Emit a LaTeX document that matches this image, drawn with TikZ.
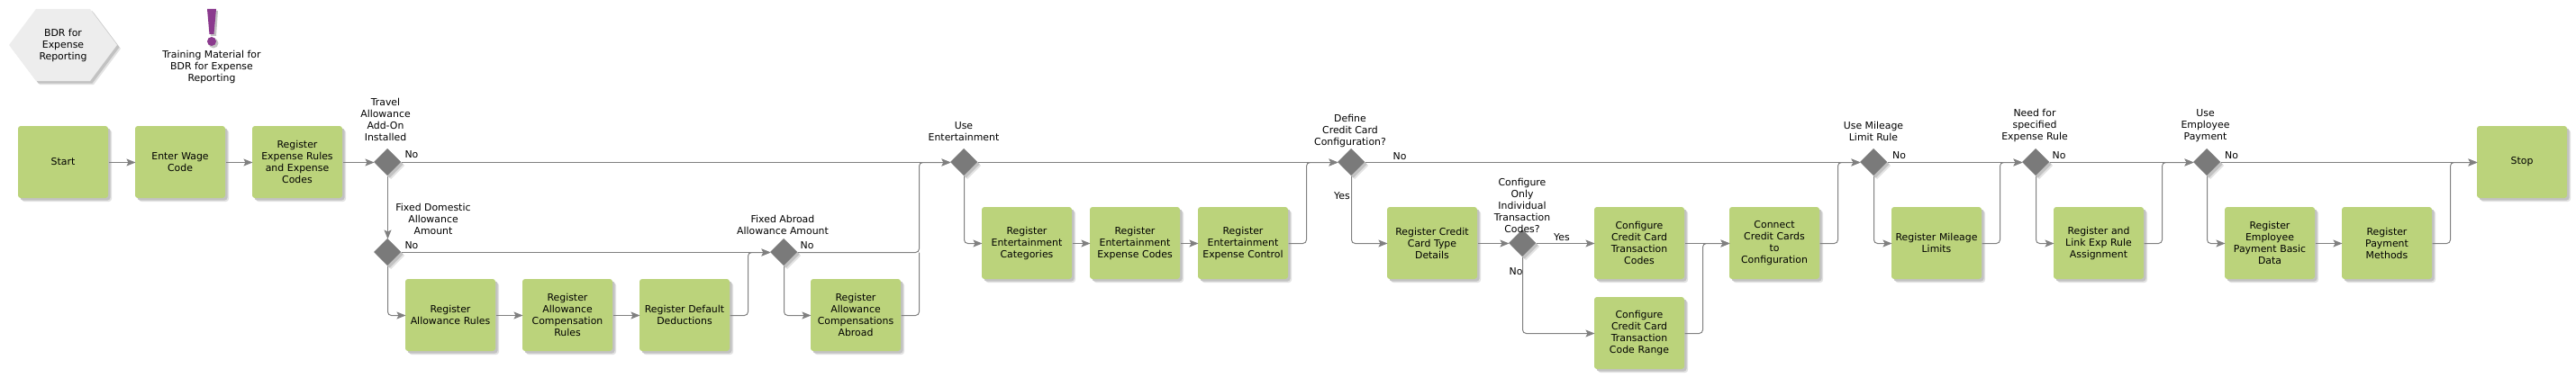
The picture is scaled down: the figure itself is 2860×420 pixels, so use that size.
\documentclass[tikz,border=0pt]{standalone}
\usepackage{fontspec}
\setmainfont{DejaVu Sans}
\usetikzlibrary{arrows.meta,shapes.geometric,shadows}
\definecolor{boxgreen}{HTML}{BBD37B}
\definecolor{diagray}{HTML}{7A7A7A}
\definecolor{linegray}{HTML}{808080}
\definecolor{hexgray}{HTML}{EDEDED}
\definecolor{shadeouter}{HTML}{E2E2E2}
\definecolor{shadeinner}{HTML}{C2C2C2}
\definecolor{markpurple}{HTML}{8B3A8E}
\tikzset{
  softshadow/.style={drop shadow={shadow xshift=4pt,shadow yshift=-4pt,fill=shadeouter,opacity=1},drop shadow={shadow xshift=2.5pt,shadow yshift=-2.5pt,fill=shadeinner,opacity=1}},
  taskbox/.style={rectangle,rounded corners=3pt,fill=boxgreen,softshadow,minimum width=100pt,minimum height=80pt,inner sep=0pt,outer sep=0pt,text width=98pt,align=center,font=\fontsize{10.9}{13}\selectfont,text=black},
  gateway/.style={diamond,aspect=1,fill=diagray,softshadow,minimum width=30pt,minimum height=30pt,inner sep=0pt,outer sep=0pt},
  caption/.style={inner sep=0pt,align=center,font=\fontsize{10.9}{13}\selectfont,text=black},
  plainline/.style={draw=linegray,line width=1pt,rounded corners=4pt,transform canvas={xshift=.5pt,yshift=-.5pt}},
  flow/.style={plainline,-{Stealth[length=10pt,width=8pt,inset=2pt]}}
}
\begin{document}
\begin{tikzpicture}[x=1pt,y=-1pt]
\useasboundingbox (0,0) rectangle (2860,420);
% header
\fill[shadeouter] (14,54) -- (44,14) -- (104,14) -- (134,54) -- (104,94) -- (44,94) -- cycle;
\fill[shadeinner] (12.5,52.5) -- (42.5,12.5) -- (102.5,12.5) -- (132.5,52.5) -- (102.5,92.5) -- (42.5,92.5) -- cycle;
\fill[hexgray] (10,50) -- (40,10) -- (100,10) -- (130,50) -- (100,90) -- (40,90) -- cycle;
\node[caption] (title) at (70,50) {BDR for\\Expense\\Reporting};
\fill[shadeinner] (232,12) -- (242,12) -- (240,40) -- (234,40) -- cycle;
\fill[shadeinner] (237,48) circle (5.5);
\fill[markpurple] (230,10) -- (240,10) -- (237.5,38) -- (232.5,38) -- cycle;
\fill[markpurple] (235,46) circle (5);
\node[caption] (note) at (235,74) {Training Material for\\BDR for Expense\\Reporting};
% tasks
\node[taskbox] (start) at (70,180) {Start};
\node[taskbox] (wage) at (200,180) {Enter Wage\\Code};
\node[taskbox] (rules) at (330,180) {Register\\Expense Rules\\and Expense\\Codes};
\node[taskbox] (allow) at (500,350) {Register\\Allowance Rules};
\node[taskbox] (comp) at (630,350) {Register\\Allowance\\Compensation\\Rules};
\node[taskbox] (deduct) at (760,350) {Register Default\\Deductions};
\node[taskbox] (abroad) at (950,350) {Register\\Allowance\\Compensations\\Abroad};
\node[taskbox] (entcat) at (1140,270) {Register\\Entertainment\\Categories};
\node[taskbox] (entcode) at (1260,270) {Register\\Entertainment\\Expense Codes};
\node[taskbox] (entctl) at (1380,270) {Register\\Entertainment\\Expense Control};
\node[taskbox] (cctype) at (1590,270) {Register Credit\\Card Type\\Details};
\node[taskbox] (cctrans) at (1820,270) {Configure\\Credit Card\\Transaction\\Codes};
\node[taskbox] (ccrange) at (1820,370) {Configure\\Credit Card\\Transaction\\Code Range};
\node[taskbox] (connect) at (1970,270) {Connect\\Credit Cards\\to\\Configuration};
\node[taskbox] (mileage) at (2150,270) {Register Mileage\\Limits};
\node[taskbox] (link) at (2330,270) {Register and\\Link Exp Rule\\Assignment};
\node[taskbox] (basic) at (2520,270) {Register\\Employee\\Payment Basic\\Data};
\node[taskbox] (methods) at (2650,270) {Register\\Payment\\Methods};
\node[taskbox] (stop) at (2800,180) {Stop};
% gateways
\node[gateway] (g1) at (430,180) {};
\node[gateway] (g2) at (430,280) {};
\node[gateway] (g3) at (870,280) {};
\node[gateway] (g4) at (1070,180) {};
\node[gateway] (g5) at (1500,180) {};
\node[gateway] (g6) at (1690,270) {};
\node[gateway] (g7) at (2080,180) {};
\node[gateway] (g8) at (2260,180) {};
\node[gateway] (g9) at (2450,180) {};
% junction points
\coordinate (m3) at (830,280);
\coordinate (m4) at (1020,280);
\coordinate (m4top) at (1020,180);
\coordinate (m5) at (1450,180);
\coordinate (m6) at (1890,270);
\coordinate (m7) at (2040,180);
\coordinate (m8) at (2220,180);
\coordinate (m9) at (2400,180);
\coordinate (m10) at (2720,180);
% connectors
\draw[flow] (start) -- (wage);
\draw[flow] (wage) -- (rules);
\draw[flow] (rules) -- (g1);
\draw[flow] (g1) -- (g2);
\draw[flow] (g1) -- (g4);
\draw[flow] (g2) -- (g3);
\draw[flow] (g2.south) |- (allow.west);
\draw[flow] (allow) -- (comp);
\draw[flow] (comp) -- (deduct);
\draw[flow] (deduct.east) -| (m3) -- (g3.west);
\draw[flow] (g3.east) -- (m4) -- (m4top) -- (g4.west);
\draw[flow] (g3.south) |- (abroad.west);
\draw[plainline] (abroad.east) -| (m4);
\draw[flow] (g4) -- (g5);
\draw[flow] (g4.south) |- (entcat.west);
\draw[flow] (entcat) -- (entcode);
\draw[flow] (entcode) -- (entctl);
\draw[flow] (entctl.east) -| (m5) -- (g5.west);
\draw[flow] (g5) -- (g7);
\draw[flow] (g5.south) |- (cctype.west);
\draw[flow] (cctype) -- (g6);
\draw[flow] (g6) -- (cctrans);
\draw[flow] (g6.south) |- (ccrange.west);
\draw[flow] (cctrans) -- (connect);
\draw[flow] (ccrange.east) -| (m6) -- (connect.west);
\draw[flow] (connect.east) -| (m7) -- (g7.west);
\draw[flow] (g7) -- (g8);
\draw[flow] (g7.south) |- (mileage.west);
\draw[flow] (mileage.east) -| (m8) -- (g8.west);
\draw[flow] (g8) -- (g9);
\draw[flow] (g8.south) |- (link.west);
\draw[flow] (link.east) -| (m9) -- (g9.west);
\draw[flow] (g9) -- (stop);
\draw[flow] (g9.south) |- (basic.west);
\draw[flow] (basic) -- (methods);
\draw[flow] (methods.east) -| (m10) -- (stop.west);
% labels
\node[caption] (l1) at (428,133) {Travel\\Allowance\\Add-On\\Installed};
\node[caption] (l2) at (481,243) {Fixed Domestic\\Allowance\\Amount};
\node[caption] (l3) at (869,249.5) {Fixed Abroad\\Allowance Amount};
\node[caption] (l4) at (1070,146.5) {Use\\Entertainment};
\node[caption] (l5) at (1499,145) {Define\\Credit Card\\Configuration?};
\node[caption] (l6) at (1690,228.5) {Configure\\Only\\Individual\\Transaction\\Codes?};
\node[caption] (l7) at (2080,145.5) {Use Mileage\\Limit Rule};
\node[caption] (l8) at (2259,139) {Need for\\specified\\Expense Rule};
\node[caption] (l9) at (2448.5,140) {Use\\Employee\\Payment};
\node[caption] (n1) at (457,172) {No};
\node[caption] (n2) at (457,273) {No};
\node[caption] (n3) at (896,273) {No};
\node[caption] (n4) at (1554,174) {No};
\node[caption] (y4) at (1490,218) {Yes};
\node[caption] (y6) at (1734,264) {Yes};
\node[caption] (n6) at (1683,302) {No};
\node[caption] (n7) at (2108.5,173) {No};
\node[caption] (n8) at (2286,173) {No};
\node[caption] (n9) at (2477.5,173) {No};
\end{tikzpicture}
\end{document}
